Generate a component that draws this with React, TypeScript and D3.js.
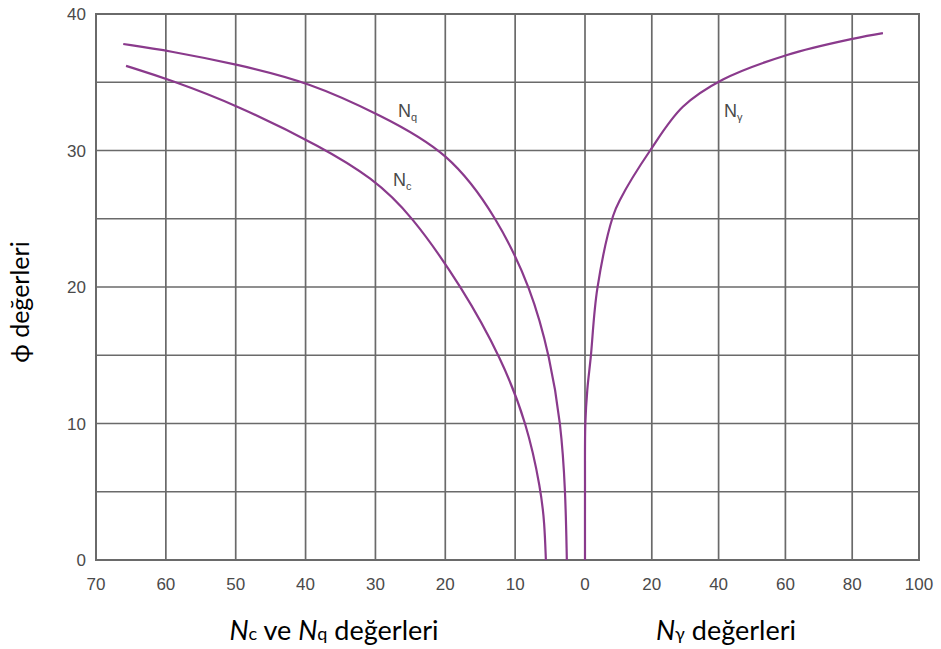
import React from 'react';
import * as d3 from 'd3';

// curve readings: [factor value, phi]
const ncPoints: [number, number][] = [
  [5.6, 0], [5.8, 2.7], [6.3, 5.1], [8.3, 10], [12.0, 14.8], [17.5, 19.9],
  [25.0, 25.4], [30.5, 28.0], [37.5, 30.2], [49.7, 33.3], [59.5, 35.2], [65.7, 36.2],
];
const nqPoints: [number, number][] = [
  [2.6, 0], [2.8, 5.1], [3.45, 10], [5.0, 14.8], [7.7, 19.9], [12.6, 25.1],
  [19.5, 29.9], [29.3, 32.6], [39.5, 35], [49.7, 36.3], [59.5, 37.3], [66.1, 37.8],
];
const ngPoints: [number, number][] = [
  [0, 0], [0, 5.1], [0.1, 10], [0.7, 12.5], [1.7, 14.8], [3.7, 19.9], [8.4, 25.2],
  [10.5, 26.4], [19.5, 30], [29.3, 33.2], [41.3, 35.2], [60.5, 37], [80.5, 38.2], [89.2, 38.6],
];

const leftTicks = [70, 60, 50, 40, 30, 20, 10, 0];
const rightTicks = [20, 40, 60, 80, 100];
const phiTicks = [0, 10, 20, 30, 40];
const phiGrid = [5, 10, 15, 20, 25, 30, 35];

const W = 941;
const H = 649;
const gridColor = '#6a6a6a';
const curveColor = '#8a3a8c';
const tickFont = '"Liberation Sans", Arial, sans-serif';
const titleFont = 'Lato, "Open Sans", sans-serif';

export default function App() {
  const xL = d3.scaleLinear().domain([70, 0]).range([96, 585]);
  const xR = d3.scaleLinear().domain([0, 100]).range([585, 919]);
  const y = d3.scaleLinear().domain([0, 40]).range([560, 14]);

  const lineL = d3.line<[number, number]>()
    .x(d => xL(d[0]))
    .y(d => y(d[1]))
    .curve(d3.curveBasis);
  const lineR = d3.line<[number, number]>()
    .x(d => xR(d[0]))
    .y(d => y(d[1]))
    .curve(d3.curveCatmullRom.alpha(0.5));

  return (
    <svg width={W} height={H} style={{ position: 'absolute', left: 0, top: 0, background: '#fff' }}>
      {/* grid */}
      <g stroke={gridColor} strokeWidth={1.7}>
        {phiGrid.map(p => (
          <line key={'h' + p} x1={xL(70)} x2={xR(100)} y1={y(p)} y2={y(p)} />
        ))}
        {leftTicks.slice(1).map(t => (
          <line key={'vl' + t} x1={xL(t)} x2={xL(t)} y1={y(0)} y2={y(40)} />
        ))}
        {rightTicks.slice(0, -1).map(t => (
          <line key={'vr' + t} x1={xR(t)} x2={xR(t)} y1={y(0)} y2={y(40)} />
        ))}
      </g>
      <rect x={xL(70)} y={y(40)} width={xR(100) - xL(70)} height={y(0) - y(40)}
        fill="none" stroke={gridColor} strokeWidth={2} />

      {/* curves */}
      <g fill="none" stroke={curveColor} strokeWidth={2.2}>
        <path d={lineL(ncPoints) || ''} />
        <path d={lineL(nqPoints) || ''} />
        <path d={lineR(ngPoints) || ''} />
      </g>

      {/* tick labels */}
      <g fontFamily={tickFont} fontSize={17} fill="#4a4a4a">
        {phiTicks.map(p => (
          <text key={'py' + p} x={86} y={y(p) + 6} textAnchor="end">{p}</text>
        ))}
        {leftTicks.map(t => (
          <text key={'xl' + t} x={xL(t)} y={590} textAnchor="middle">{t}</text>
        ))}
        {rightTicks.map(t => (
          <text key={'xr' + t} x={xR(t)} y={590} textAnchor="middle">{t}</text>
        ))}
      </g>

      {/* curve labels */}
      <g fontFamily={tickFont} fontSize={18} fill="#4a4a4a">
        <text x={398} y={117}>N<tspan fontSize={11} dy={4}>q</tspan></text>
        <text x={393} y={186}>N<tspan fontSize={11} dy={4}>c</tspan></text>
        <text x={724} y={117}>N<tspan fontSize={11} dy={4}>γ</tspan></text>
      </g>

      {/* axis titles */}
      <text transform="translate(29,302) rotate(-90)" textAnchor="middle"
        fontFamily={titleFont} fontSize={25} fill="#000">ϕ değerleri</text>
      <text x={334} y={640} textAnchor="middle" fontFamily={titleFont} fontSize={27} fill="#000">
        <tspan fontStyle="italic">N</tspan><tspan fontSize={18}>c</tspan> ve <tspan fontStyle="italic">N</tspan><tspan fontSize={18}>q</tspan> değerleri
      </text>
      <text x={726} y={640} textAnchor="middle" fontFamily={titleFont} fontSize={27} fill="#000">
        <tspan fontStyle="italic">N</tspan><tspan fontSize={18}>γ</tspan> değerleri
      </text>
    </svg>
  );
}
